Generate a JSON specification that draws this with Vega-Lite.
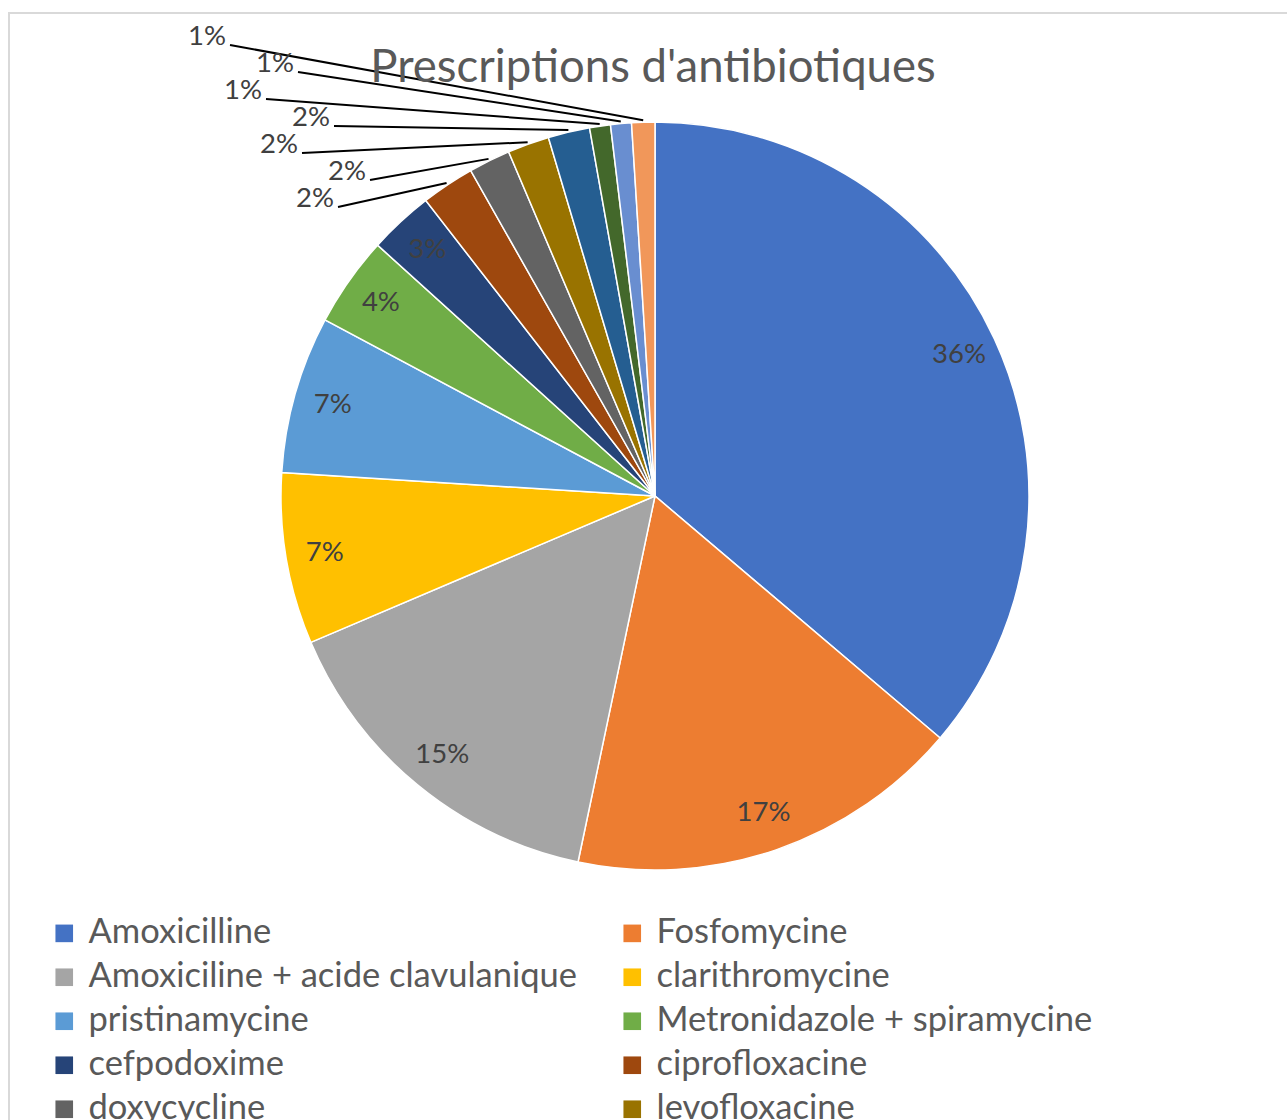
{
  "$schema": "https://vega.github.io/schema/vega-lite/v6.json",
  "width": 1300,
  "height": 1200,
  "autosize": "none",
  "padding": {"left": 9, "top": 13, "right": 0, "bottom": 0},
  "background": "white",
  "config": {
    "view": {"stroke": "#d9d9d9", "strokeWidth": 2},
    "font": "Lato"
  },
  "title": {
    "text": "Prescriptions d'antibiotiques",
    "font": "Lato",
    "fontSize": 45.5,
    "fontWeight": "normal",
    "color": "#595959",
    "anchor": "middle",
    "dx": -6,
    "offset": -78
  },
  "data": {
    "values": [
      {"rank": 1, "name": "Amoxicilline", "share": 0.362},
      {"rank": 2, "name": "Fosfomycine", "share": 0.171},
      {"rank": 3, "name": "Amoxiciline + acide clavulanique", "share": 0.153},
      {"rank": 4, "name": "clarithromycine", "share": 0.074},
      {"rank": 5, "name": "pristinamycine", "share": 0.068},
      {"rank": 6, "name": "Metronidazole + spiramycine", "share": 0.039},
      {"rank": 7, "name": "cefpodoxime", "share": 0.028},
      {"rank": 8, "name": "ciprofloxacine", "share": 0.023},
      {"rank": 9, "name": "doxycycline", "share": 0.018},
      {"rank": 10, "name": "levofloxacine", "share": 0.018},
      {"rank": 11, "name": "autre antibiotique 1", "share": 0.018},
      {"rank": 12, "name": "autre antibiotique 2", "share": 0.009},
      {"rank": 13, "name": "autre antibiotique 3", "share": 0.009},
      {"rank": 14, "name": "autre antibiotique 4", "share": 0.010}
    ]
  },
  "transform": [
    {"window": [{"op": "sum", "field": "share", "as": "cum"}], "sort": [{"field": "rank"}], "frame": [null, 0]},
    {"calculate": "2*PI*(datum.cum - datum.share/2)", "as": "ang"},
    {"calculate": "376*sin(datum.ang)", "as": "ex"},
    {"calculate": "376*cos(datum.ang)", "as": "ey"},
    {"calculate": "335*sin(datum.ang)", "as": "ix"},
    {"calculate": "335*cos(datum.ang)", "as": "iy"},
    {"calculate": "datum.rank - 8", "as": "k"},
    {"calculate": "-317 - 18*datum.k + 50*(datum.k % 2)", "as": "ax"},
    {"calculate": "289 + 27*datum.k", "as": "ay"}
  ],
  "layer": [
    {
      "mark": {"type": "arc", "outerRadius": 374, "stroke": "white", "strokeWidth": 1.5},
      "encoding": {
        "x": {"datum": 0, "type": "quantitative", "scale": {"domain": [-646, 654], "nice": false, "zero": false}, "axis": null},
        "y": {"datum": 0, "type": "quantitative", "scale": {"domain": [-717, 483], "nice": false, "zero": false}, "axis": null},
        "theta": {"field": "share", "type": "quantitative", "stack": true},
        "order": {"field": "rank", "type": "quantitative"},
        "color": {
          "field": "name",
          "type": "nominal",
          "scale": {
            "domain": ["Amoxicilline", "Fosfomycine", "Amoxiciline + acide clavulanique", "clarithromycine", "pristinamycine", "Metronidazole + spiramycine", "cefpodoxime", "ciprofloxacine", "doxycycline", "levofloxacine", "autre antibiotique 1", "autre antibiotique 2", "autre antibiotique 3", "autre antibiotique 4"],
            "range": ["#4472C4", "#ED7D31", "#A5A5A5", "#FFC000", "#5B9BD5", "#70AD47", "#264478", "#9E480E", "#636363", "#997300", "#255E91", "#43682B", "#698ED0", "#F1975A"]
          },
          "legend": {
            "title": null,
            "orient": "none",
            "direction": "horizontal",
            "legendX": 38,
            "legendY": 903,
            "columns": 2,
            "columnPadding": 37,
            "rowPadding": 9,
            "symbolType": "square",
            "symbolSize": 310,
            "symbolStrokeWidth": 0,
            "labelFont": "Lato",
            "labelFontSize": 34.5,
            "labelColor": "#595959",
            "labelOffset": 7,
            "labelLimit": 1000
          }
        }
      }
    },
    {
      "transform": [{"filter": "datum.rank <= 7"}],
      "mark": {"type": "text", "font": "Lato", "fontSize": 27.5, "color": "#404040", "align": "center", "baseline": "middle"},
      "encoding": {
        "x": {"field": "ix", "type": "quantitative"},
        "y": {"field": "iy", "type": "quantitative"},
        "text": {"field": "share", "type": "quantitative", "format": ".0%"}
      }
    },
    {
      "transform": [{"filter": "datum.rank >= 8"}],
      "mark": {"type": "rule", "color": "black", "strokeWidth": 2},
      "encoding": {
        "x": {"field": "ax", "type": "quantitative"},
        "y": {"field": "ay", "type": "quantitative"},
        "x2": {"field": "ex"},
        "y2": {"field": "ey"}
      }
    },
    {
      "transform": [{"filter": "datum.rank >= 8"}],
      "mark": {"type": "text", "font": "Lato", "fontSize": 27.5, "color": "#404040", "align": "right", "baseline": "middle", "dx": -4, "dy": -8},
      "encoding": {
        "x": {"field": "ax", "type": "quantitative"},
        "y": {"field": "ay", "type": "quantitative"},
        "text": {"field": "share", "type": "quantitative", "format": ".0%"}
      }
    }
  ]
}
